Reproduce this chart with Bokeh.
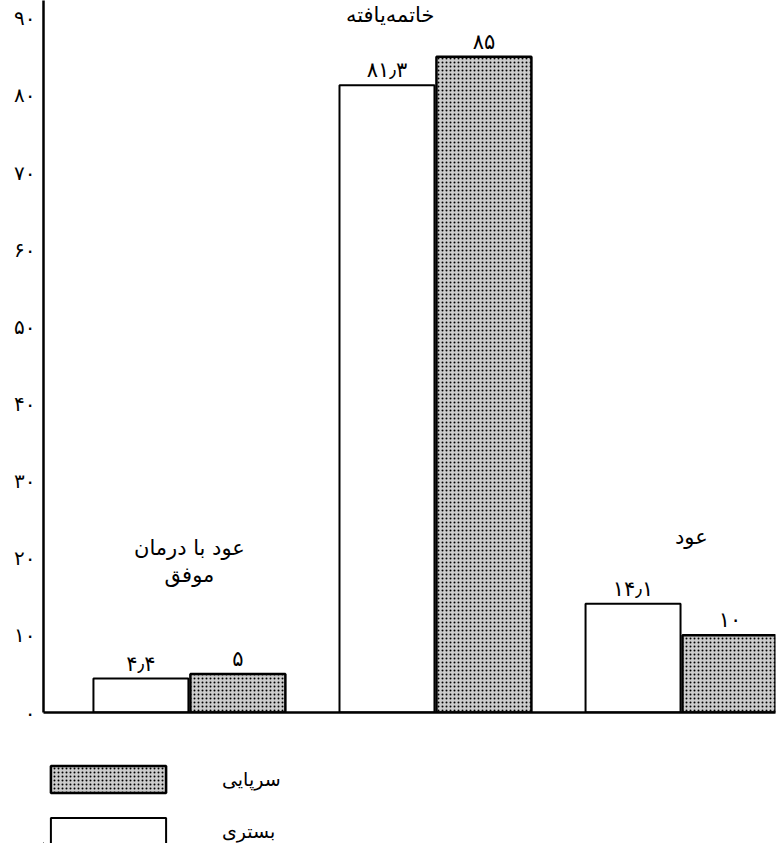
from bokeh.plotting import figure
from bokeh.layouts import column
from bokeh.models import (ColumnDataSource, Range1d, FixedTicker, Legend, LegendItem)
from bokeh.transform import dodge
from bokeh.embed import file_html
from bokeh.resources import INLINE
from bokeh.core.properties import value

# ---- data ----
categories = ["عود با درمان\nموفق", "خاتمه‌یافته", "عود"]
inpatient = [4.4, 81.3, 14.1]      # بستری
outpatient = [5, 85, 10]           # سرپایی
series_names = ["بستری", "سرپایی"]
y_ticks = [0, 10, 20, 30, 40, 50, 60, 70, 80, 90]

# layout of category captions (style, not data)
label_y = [19.6, 90.4, 22.7]
label_dx = [0.0, -0.184, 0.04]

FA = str.maketrans("0123456789.", "۰۱۲۳۴۵۶۷۸۹٫")


def fa(v):
    return f"{v:g}".translate(FA)


x = list(range(len(categories)))
src = ColumnDataSource(dict(
    x=x,
    inp=inpatient,
    outp=outpatient,
    inp_lbl=[fa(v) for v in inpatient],
    outp_lbl=[fa(v) for v in outpatient],
    cat=categories,
    cx=[xi + d for xi, d in zip(x, label_dx)],
    cy=label_y,
))

FONT = "DejaVu Sans"
W = 0.386
OFF = 0.197
white_style = dict(fill_color="white", line_color="black", line_width=2)
gray_style = dict(fill_color="#cccccc", line_color="black", line_width=2.5,
                  hatch_pattern="dot", hatch_color="black", hatch_scale=4,
                  hatch_weight=1.6)

p = figure(width=781, height=725, output_backend="svg", toolbar_location=None,
           x_range=Range1d(-0.593, 2.382), y_range=Range1d(0, 92.3),
           min_border_left=43, min_border_right=6, min_border_top=0,
           min_border_bottom=13)
p.outline_line_color = None
p.xgrid.visible = False
p.ygrid.visible = False

p.vbar(x=dodge("x", -OFF, range=p.x_range), top="inp", width=W, source=src, **white_style)
p.vbar(x=dodge("x", OFF, range=p.x_range), top="outp", width=W, source=src, **gray_style)

p.text(x=dodge("x", -OFF, range=p.x_range), y="inp", text="inp_lbl", source=src,
       text_align="center", text_baseline="bottom", y_offset=-3,
       text_font=value(FONT), text_font_size="21px", text_color="black")
p.text(x=dodge("x", OFF, range=p.x_range), y="outp", text="outp_lbl", source=src,
       text_align="center", text_baseline="bottom", y_offset=-3,
       text_font=value(FONT), text_font_size="21px", text_color="black")
p.text(x="cx", y="cy", text="cat", source=src,
       text_align="center", text_baseline="middle", text_line_height=1.15,
       text_font=value(FONT), text_font_size="21px", text_color="black")

# axes
p.yaxis.ticker = FixedTicker(ticks=y_ticks)
p.yaxis.major_label_overrides = {t: fa(t) for t in y_ticks}
p.yaxis.major_label_text_font = FONT
p.yaxis.major_label_text_font_size = "20px"
p.yaxis.major_label_text_color = "black"
p.yaxis.major_tick_out = 0
p.yaxis.major_tick_in = 0
p.yaxis.minor_tick_out = 0
p.yaxis.minor_tick_in = 0
p.yaxis.axis_line_width = 2.5
p.yaxis.axis_line_color = "black"
p.yaxis.major_label_standoff = 8

p.xaxis.ticker = FixedTicker(ticks=[])
p.xaxis.major_tick_out = 0
p.xaxis.major_tick_in = 0
p.xaxis.minor_tick_out = 0
p.xaxis.minor_tick_in = 0
p.xaxis.axis_line_width = 2.5
p.xaxis.axis_line_color = "black"

# ---- legend panel ----
p2 = figure(width=781, height=118, output_backend="svg", toolbar_location=None,
            x_axis_type=None, y_axis_type=None,
            x_range=Range1d(0, 1), y_range=Range1d(0, 1),
            min_border_left=0, min_border_right=0, min_border_top=0, min_border_bottom=0)
p2.outline_line_color = None
p2.xgrid.visible = False
p2.ygrid.visible = False
# legend-only renderers, placed outside the visible range
lg_in = p2.vbar(x=[-10], top=[-10], bottom=[-11], width=0.1, **white_style)
lg_out = p2.vbar(x=[-10], top=[-10], bottom=[-11], width=0.1, **gray_style)

legend = Legend(items=[LegendItem(label=series_names[1], renderers=[lg_out]),
                       LegendItem(label=series_names[0], renderers=[lg_in])],
                location=(-7, -5), orientation="vertical",
                glyph_width=144, glyph_height=34, label_height=34,
                label_standoff=42, spacing=18, padding=0, margin=0,
                border_line_color=None, background_fill_alpha=0,
                label_text_font=FONT, label_text_font_size="19px",
                label_text_color="black")
p2.add_layout(legend, "center")

layout = column(p, p2, spacing=0)
open("out.html", "w").write(file_html(layout, INLINE))
